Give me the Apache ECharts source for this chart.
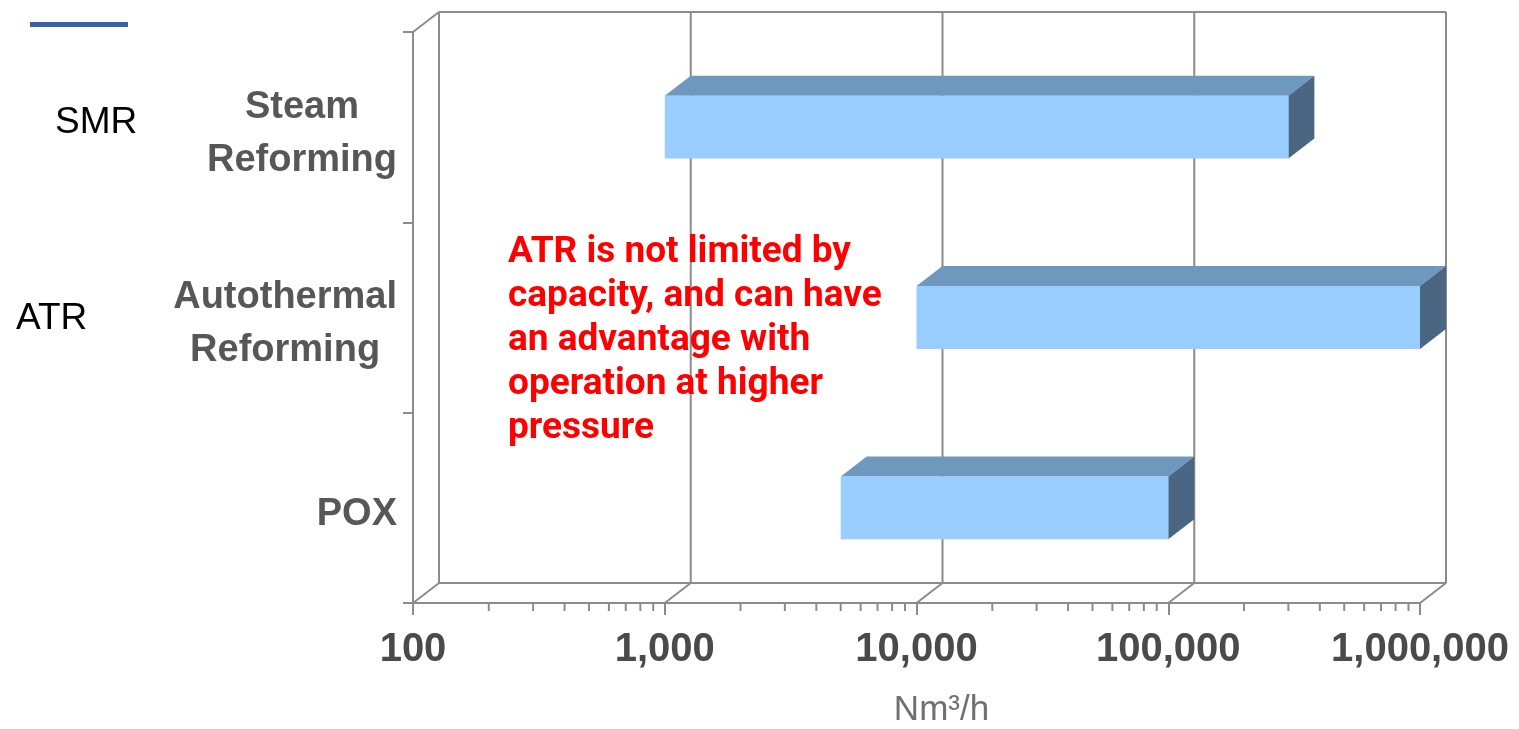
<!DOCTYPE html>
<html>
<head>
<meta charset="utf-8">
<title>Reformer capacity ranges</title>
<script src="https://cdn.jsdelivr.net/npm/echarts@6/dist/echarts.min.js"></script>
<style>
  html, body { margin: 0; padding: 0; background: #fff; }
  #chart { width: 1519px; height: 729px; }
</style>
</head>
<body>
<div id="chart"></div>
<script>
// process names on the category axis (top to bottom)
const processes = ['Steam\nReforming', 'Autothermal\nReforming', 'POX'];
const shortNames = ['SMR', 'ATR', ''];
// capacity range of each process, Nm3/h
const capacityMin = [1000, 10000, 5000];
const capacityMax = [300000, 1000000, 100000];
// axis decades and log minor steps
const decades = [100, 1000, 10000, 100000, 1000000];
const minorSteps = [2, 3, 4, 5, 6, 7, 8, 9];
const annotationLines = [
    'ATR is not limited by',
    'capacity, and can have',
    'an advantage with',
    'operation at higher',
    'pressure'
];

const DX = 26;   // depth offset of the pseudo-3D box
const DY = -20;
const frameColor = '#8c8c8c';
const labelFont = '"Liberation Sans", Arial, sans-serif';

const barData = processes.map((p, i) => [i, capacityMin[i], capacityMax[i]]);
const minorTicks = [];
decades.slice(0, -1).forEach(d => minorSteps.forEach(s => minorTicks.push(d * s)));

function line(x1, y1, x2, y2) {
    return {
        type: 'line',
        shape: { x1, y1, x2, y2 },
        style: { stroke: frameColor, lineWidth: 2 }
    };
}

function renderGridLine(params, api) {
    const cs = params.coordSys;
    const x = api.coord([api.value(0), 0])[0];
    const yb = cs.y + cs.height;
    const yt = cs.y;
    return {
        type: 'group',
        children: [
            line(x, yb, x + DX, yb + DY),
            line(x + DX, yb + DY, x + DX, yt + DY)
        ]
    };
}

function renderWalls(params, api) {
    const cs = params.coordSys;
    const x0 = api.coord([api.value(0), 0])[0];
    const x1 = api.coord([api.value(1), 0])[0];
    const yb = cs.y + cs.height;
    const yt = cs.y;
    return {
        type: 'group',
        children: [
            line(x0 + DX, yb + DY, x1 + DX, yb + DY),
            line(x0 + DX, yt + DY, x1 + DX, yt + DY),
            line(x0, yt, x0 + DX, yt + DY)
        ]
    };
}

function renderMinorTick(params, api) {
    const cs = params.coordSys;
    const x = api.coord([api.value(0), 0])[0];
    const yb = cs.y + cs.height;
    return line(x, yb, x, yb + 8);
}

function renderBar(params, api) {
    const cs = params.coordSys;
    const cat = api.value(0);
    const p0 = api.coord([api.value(1), cat]);
    const p1 = api.coord([api.value(2), cat]);
    const band = cs.height / processes.length;
    const h = band * 0.33;
    const xa = p0[0], xb = p1[0];
    const ya = p0[1] - h / 2, yb = ya + h;
    return {
        type: 'group',
        children: [
            {
                type: 'polygon',
                shape: { points: [[xa, ya], [xb, ya], [xb + DX, ya + DY], [xa + DX, ya + DY]] },
                style: { fill: '#6f98bf' }
            },
            {
                type: 'polygon',
                shape: { points: [[xb, ya], [xb + DX, ya + DY], [xb + DX, yb + DY], [xb, yb]] },
                style: { fill: '#4b6682' }
            },
            {
                type: 'rect',
                shape: { x: xa, y: ya, width: xb - xa, height: h },
                style: { fill: '#99ccff' }
            }
        ]
    };
}

const chart = echarts.init(document.getElementById('chart'));

chart.setOption({
    animation: false,
    backgroundColor: '#ffffff',
    grid: { left: 413, right: 99, top: 32, bottom: 126, outerBoundsMode: 'none' },
    xAxis: {
        type: 'log',
        logBase: 10,
        min: 100,
        max: 1000000,
        name: 'Nm³/h',
        nameLocation: 'middle',
        nameGap: 90,
        nameTextStyle: {
            fontFamily: labelFont,
            fontSize: 35,
            color: '#707070',
            padding: [0, 0, 0, 50]
        },
        axisLine: { show: true, onZero: false, lineStyle: { color: frameColor, width: 2 } },
        axisTick: { show: true, length: 12, lineStyle: { color: frameColor, width: 2 } },
        splitLine: { show: false },
        axisLabel: {
            margin: 27,
            fontFamily: labelFont,
            fontSize: 40,
            fontWeight: 'bold',
            color: '#4a4a4a',
            formatter: v => Number(v).toLocaleString('en-US')
        }
    },
    yAxis: {
        type: 'category',
        data: processes,
        inverse: true,
        axisLine: { show: true, onZero: false, lineStyle: { color: frameColor, width: 2 } },
        axisTick: { show: true, length: 10, lineStyle: { color: frameColor, width: 2 } },
        splitLine: { show: false },
        axisLabel: {
            margin: 16,
            padding: [14, 0, 0, 0],
            formatter: v => v.split('\n').map(s => '{c|' + s + '}').join('\n'),
            rich: {
                c: {
                    align: 'center',
                    fontFamily: labelFont,
                    fontSize: 38,
                    fontWeight: 'bold',
                    color: '#575757',
                    lineHeight: 53
                }
            }
        }
    },
    graphic: [
        {
            type: 'rect',
            shape: { x: 30, y: 22, width: 98, height: 5 },
            style: { fill: '#3b5fa9' }
        },
        {
            type: 'text',
            left: 55,
            top: 104,
            style: { text: shortNames[0], font: '37px ' + labelFont, fill: '#000' }
        },
        {
            type: 'text',
            left: 16,
            top: 300,
            style: { text: shortNames[1], font: '37px ' + labelFont, fill: '#000' }
        },
        {
            type: 'text',
            left: 508,
            top: 231,
            z: 10,
            style: {
                text: annotationLines.join('\n'),
                font: 'bold 37px Roboto',
                fill: '#ff0000',
                lineHeight: 44
            }
        }
    ],
    series: [
        {
            name: 'walls',
            type: 'custom',
            renderItem: renderWalls,
            data: [[decades[0], decades[decades.length - 1]]],
            z: 1,
            silent: true
        },
        {
            name: 'gridlines',
            type: 'custom',
            renderItem: renderGridLine,
            data: decades.map(d => [d]),
            z: 1,
            silent: true
        },
        {
            name: 'minor ticks',
            type: 'custom',
            renderItem: renderMinorTick,
            data: minorTicks.map(d => [d]),
            z: 1,
            silent: true
        },
        {
            name: 'capacity',
            type: 'custom',
            renderItem: renderBar,
            encode: { x: [1, 2], y: 0 },
            data: barData,
            z: 3
        }
    ]
});
</script>
</body>
</html>
